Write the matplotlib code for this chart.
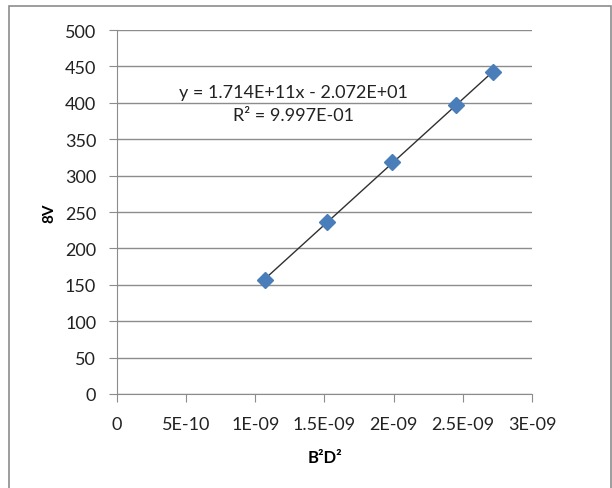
import numpy as np
import matplotlib.pyplot as plt
from matplotlib.patches import Rectangle

# Data
b2d2 = [1.070e-9, 1.516e-9, 1.986e-9, 2.451e-9, 2.720e-9]
v8 = [157, 236, 318, 397, 442]
x_ticks = [0, 5e-10, 1e-9, 1.5e-9, 2e-9, 2.5e-9, 3e-9]
x_tick_labels = ["0", "5E-10", "1E-09", "1.5E-09", "2E-09", "2.5E-09", "3E-09"]
y_ticks = [0, 50, 100, 150, 200, 250, 300, 350, 400, 450, 500]
eq_text = "y = 1.714E+11x - 2.072E+01"
r2_text = "R² = 9.997E-01"

plt.rcParams['font.family'] = ['Lato', 'DejaVu Sans']

fig = plt.figure(figsize=(6.12, 4.89), dpi=100)
ax = fig.add_axes([117 / 612, 94 / 489, 415 / 612, 364 / 489])

# outer chart border
fig.patches.append(Rectangle((9 / 612, -0.05), 602 / 612, (489 - 7) / 489 + 0.05,
                             transform=fig.transFigure, fill=False,
                             edgecolor='#8c8c8c', lw=1.2))

# linear trendline
coef = np.polyfit(b2d2, v8, 1)
xs = np.array([min(b2d2), max(b2d2)])
ax.plot(xs, np.polyval(coef, xs), color='#303030', lw=1.0, zorder=2)

ax.plot(b2d2, v8, linestyle='none', marker='D', markersize=8,
        color='#4a7ebb', markeredgecolor='#4a7ebb', zorder=3)

ax.set_xlim(0, 3e-9)
ax.set_ylim(0, 500)
ax.set_xticks(x_ticks)
ax.set_xticklabels(x_tick_labels)
ax.set_yticks(y_ticks)

ax.grid(axis='y', color='#8c8c8c', lw=1.0)
ax.set_axisbelow(True)
for s in ['top', 'right']:
    ax.spines[s].set_visible(False)
for s in ['left', 'bottom']:
    ax.spines[s].set_color('#8c8c8c')
ax.tick_params(colors='#8c8c8c', labelcolor='#222222', labelsize=13,
               length=6, direction='out')
ax.tick_params(axis='y', pad=9)
ax.tick_params(axis='x', pad=10)

ax.set_xlabel("B²D²", fontsize=12, fontweight='bold', labelpad=12)
ax.set_ylabel("8V", fontsize=11, fontweight='bold', labelpad=6)

ax.text(1.275e-9, 415, eq_text, ha='center', va='center', fontsize=13, color='#222222')
ax.text(1.275e-9, 383, r2_text, ha='center', va='center', fontsize=13, color='#222222')

fig.savefig("out.png", dpi=100)
